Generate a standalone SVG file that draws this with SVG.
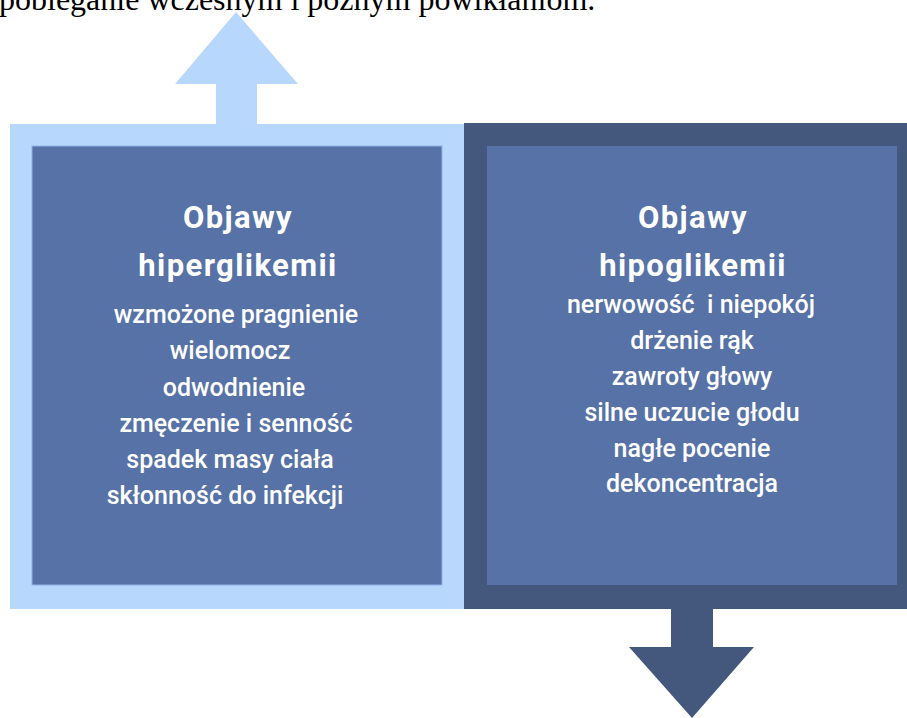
<svg xmlns="http://www.w3.org/2000/svg" width="907" height="718" viewBox="0 0 907 718">
<style>
.light{fill:#B8D7FC}
.dark{fill:#44587D}
.inner{fill:#5672A6}
.title{font-family:Roboto,"Liberation Sans",sans-serif;font-weight:bold;font-size:31px;letter-spacing:1.4px;fill:#FFFFFF;text-anchor:middle}
.body{font-family:Roboto,"Liberation Sans",sans-serif;font-weight:500;font-size:25px;fill:#FFFFFF;text-anchor:middle}
.top{font-family:"Liberation Serif",serif;font-size:32px;fill:#000000}
</style>
<rect width="907" height="718" fill="#FFFFFF"/>
<text class="top" x="-1" y="10">pobieganie wczesnym i późnym powikłaniom.</text>
<g id="connectors">
<polygon class="light" points="236,12 298,84 257,84 257,125 216,125 216,84 175,84"/>
<polygon class="dark" points="671,607 713,607 713,647 754,647 692,718 629,647 671,647"/>
</g>
<g id="hiper">
<rect class="light" x="10" y="124" width="456" height="485"/>
<rect class="inner" x="32" y="146" width="410" height="439" stroke="#8FB2EA" stroke-width="1"/>
<text class="title" x="238" y="228">Objawy</text>
<text class="title" x="238" y="276">hiperglikemii</text>
<text class="body" x="236" y="323">wzmożone pragnienie</text>
<text class="body" x="230" y="359">wielomocz</text>
<text class="body" x="234" y="396">odwodnienie</text>
<text class="body" x="236" y="432">zmęczenie i senność</text>
<text class="body" x="230" y="468">spadek masy ciała</text>
<text class="body" x="225" y="504">skłonność do infekcji</text>
</g>
<g id="hipo">
<rect class="dark" x="464" y="123" width="443" height="486"/>
<rect class="inner" x="487" y="146" width="410" height="439"/>
<text class="title" x="693" y="228">Objawy</text>
<text class="title" x="693" y="276">hipoglikemii</text>
<text class="body" x="691" y="313" xml:space="preserve">nerwowość  i niepokój</text>
<text class="body" x="692" y="349">drżenie rąk</text>
<text class="body" x="692" y="385">zawroty głowy</text>
<text class="body" x="692" y="421">silne uczucie głodu</text>
<text class="body" x="692" y="457">nagłe pocenie</text>
<text class="body" x="692" y="492">dekoncentracja</text>
</g>
</svg>
